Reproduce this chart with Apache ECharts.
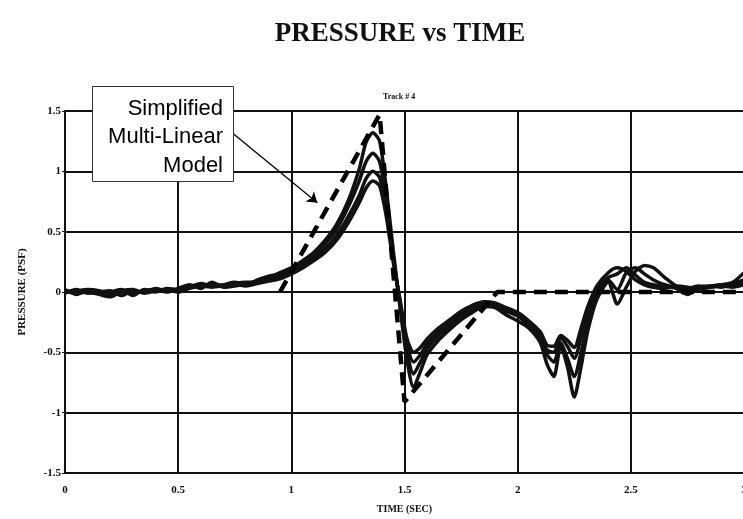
<!DOCTYPE html>
<html>
<head>
<meta charset="utf-8">
<script src="https://cdn.jsdelivr.net/npm/echarts@6/dist/echarts.min.js"></script>
<style>
  html, body { margin: 0; padding: 0; background: #fff; }
  #chart { width: 743px; height: 519px; }
</style>
</head>
<body>
<div id="chart"></div>
<script>
// Sample times (seconds) shared by the four measured pressure traces
const timeSec = [
  0, 0.05, 0.1, 0.15, 0.2, 0.25, 0.3, 0.35, 0.4, 0.45, 0.5,
  0.55, 0.6, 0.65, 0.7, 0.75, 0.8, 0.85, 0.9,
  0.95, 1.0, 1.05, 1.1, 1.15, 1.2, 1.25, 1.3,
  1.33, 1.36, 1.39, 1.42, 1.45, 1.48, 1.51, 1.54, 1.57, 1.6,
  1.65, 1.7, 1.75, 1.8, 1.85, 1.9, 1.95, 2.0, 2.05, 2.1,
  2.13, 2.16, 2.19, 2.22, 2.25, 2.28, 2.31,
  2.35, 2.4, 2.44, 2.48, 2.52, 2.56, 2.6,
  2.65, 2.7, 2.75, 2.8, 2.85, 2.9, 2.95, 3.0
];

// Measured pressure (PSF), one array per run
const run1 = [
  0.01, -0.01, 0.0, -0.02, -0.04, 0.0, -0.01, 0.01, 0.02, 0.0, 0.03,
  0.06, 0.03, 0.08, 0.04, 0.05, 0.07, 0.09, 0.12,
  0.16, 0.2, 0.26, 0.33, 0.43, 0.56, 0.75, 1.02,
  1.24, 1.32, 1.25, 0.85, 0.35, -0.12, -0.55, -0.79, -0.66, -0.52,
  -0.4, -0.31, -0.23, -0.17, -0.12, -0.13, -0.19, -0.24, -0.3, -0.42,
  -0.6, -0.7, -0.45, -0.62, -0.87, -0.62, -0.32,
  -0.06, 0.08, -0.1, 0.04, 0.17, 0.22, 0.2,
  0.12, 0.05, 0.02, 0.04, 0.05, 0.06, 0.08, 0.16
];
const run2 = [
  -0.01, 0.02, -0.01, 0.0, 0.01, -0.03, 0.01, 0.0, 0.03, 0.01, 0.01,
  0.04, 0.07, 0.05, 0.06, 0.08, 0.06, 0.1, 0.13,
  0.15, 0.19, 0.24, 0.3, 0.4, 0.52, 0.7, 0.92,
  1.08, 1.15, 1.08, 0.75, 0.3, -0.1, -0.48, -0.68, -0.58, -0.47,
  -0.36, -0.28, -0.2, -0.15, -0.1, -0.12, -0.16, -0.2, -0.28, -0.38,
  -0.52, -0.58, -0.42, -0.55, -0.7, -0.5, -0.25,
  -0.02, 0.1, 0.02, 0.16, 0.2, 0.15, 0.1,
  0.06, 0.03, -0.02, 0.03, 0.05, 0.04, 0.07, 0.1
];
const run3 = [
  0.02, -0.02, 0.01, -0.01, 0.0, 0.02, -0.03, 0.02, 0.0, 0.03, 0.02,
  0.05, 0.04, 0.07, 0.05, 0.07, 0.08, 0.08, 0.11,
  0.13, 0.17, 0.22, 0.28, 0.36, 0.47, 0.62, 0.8,
  0.94, 1.0, 0.95, 0.68, 0.28, -0.08, -0.42, -0.58, -0.52, -0.43,
  -0.33, -0.25, -0.18, -0.12, -0.09, -0.1, -0.15, -0.19, -0.26, -0.36,
  -0.48, -0.5, -0.38, -0.45, -0.55, -0.38, -0.18,
  0.02, 0.12, 0.15, 0.2, 0.14, 0.08, 0.06,
  0.05, 0.04, 0.03, 0.05, 0.04, 0.06, 0.05, 0.08
];
const run4 = [
  0.0, 0.01, 0.02, 0.01, -0.02, 0.01, 0.02, -0.01, 0.01, 0.02, 0.0,
  0.03, 0.05, 0.04, 0.05, 0.06, 0.05, 0.07, 0.09,
  0.11, 0.15, 0.2, 0.26, 0.33, 0.43, 0.57, 0.74,
  0.86, 0.92, 0.88, 0.62, 0.25, -0.06, -0.38, -0.5, -0.46, -0.39,
  -0.3, -0.23, -0.16, -0.11, -0.08, -0.09, -0.13, -0.17, -0.24, -0.33,
  -0.44, -0.45, -0.36, -0.4, -0.46, -0.3, -0.12,
  0.05, 0.16, 0.2, 0.17, 0.1, 0.06, 0.04,
  0.03, 0.05, 0.04, 0.02, 0.04, 0.05, 0.04, 0.06
];

// Simplified multi-linear model (breakpoints)
const modelTime = [0.95, 1.39, 1.5, 1.91, 3];
const modelValue = [0, 1.47, -0.91, 0, 0];

// Leader line from the note box to the model line (data coordinates)
const leaderFrom = [0.745, 1.31];
const leaderTo = [1.115, 0.74];

const xTicks = [0, 0.5, 1, 1.5, 2, 2.5, 3];
const yTicks = [-1.5, -1, -0.5, 0, 0.5, 1, 1.5];

const pair = (xs, ys) => xs.map((x, i) => [x, ys[i]]);

const serif = '"Liberation Serif", "DejaVu Serif", serif';
const sans = '"Liberation Sans", Arial, sans-serif';

const runStyle = (data) => ({
  type: 'line',
  data: pair(timeSec, data),
  symbol: 'none',
  smooth: 0.25,
  lineStyle: { color: '#111', width: 3.5 },
  silent: true,
  z: 3
});

const chart = echarts.init(document.getElementById('chart'), null, { renderer: 'canvas' });

chart.setOption({
  animation: false,
  backgroundColor: '#fff',
  title: {
    text: 'PRESSURE vs TIME',
    left: 395,
    textAlign: 'center',
    top: 16,
    textStyle: { fontFamily: serif, fontWeight: 'bold', fontSize: 27, color: '#111' }
  },
  grid: { left: 65, right: -1, top: 111, bottom: 46, outerBoundsMode: 'none', containLabel: false },
  xAxis: {
    type: 'value',
    min: xTicks[0],
    max: xTicks[xTicks.length - 1],
    interval: 0.5,
    name: 'TIME (SEC)',
    nameLocation: 'middle',
    nameGap: 31,
    nameTextStyle: { fontFamily: serif, fontWeight: 'bold', fontSize: 10, color: '#111' },
    axisLine: { show: true, lineStyle: { color: '#111', width: 2 } },
    axisTick: { show: false },
    axisLabel: {
      margin: 12, fontFamily: serif, fontWeight: 'bold', fontSize: 11, color: '#111',
      showMaxLabel: true, showMinLabel: true,
      formatter: v => String(v)
    },
    splitLine: { show: true, lineStyle: { color: '#111', width: 2 } }
  },
  yAxis: {
    type: 'value',
    min: yTicks[0],
    max: yTicks[yTicks.length - 1],
    interval: 0.5,
    name: 'PRESSURE (PSF)',
    nameLocation: 'middle',
    nameGap: 37,
    nameRotate: 90,
    nameTextStyle: { fontFamily: serif, fontWeight: 'bold', fontSize: 11, color: '#111' },
    axisLine: { show: true, lineStyle: { color: '#111', width: 2 } },
    axisTick: { show: true, length: 3, lineStyle: { color: '#111', width: 1 } },
    axisLabel: {
      margin: 4, fontFamily: serif, fontWeight: 'bold', fontSize: 11, color: '#111',
      formatter: v => String(v)
    },
    splitLine: { show: true, lineStyle: { color: '#111', width: 2 } }
  },
  series: [
    runStyle(run1),
    runStyle(run2),
    runStyle(run3),
    runStyle(run4),
    {
      type: 'line',
      name: 'Simplified Multi-Linear Model',
      data: pair(modelTime, modelValue),
      symbol: 'none',
      silent: true,
      z: 4,
      lineStyle: { color: '#000', width: 4.5, type: [13, 8] },
      markLine: {
        silent: true,
        symbol: ['none', 'arrow'],
        symbolSize: 10,
        label: { show: false },
        lineStyle: { color: '#000', width: 1.3, type: 'solid' },
        data: [[{ coord: leaderFrom }, { coord: leaderTo }]]
      }
    }
  ],
  graphic: [
    {
      type: 'text',
      left: 383,
      top: 93,
      style: { text: 'Track # 4', fontFamily: serif, fontWeight: 'bold', fontSize: 8, fill: '#111' }
    },
    {
      type: 'rect',
      z: 100,
      zlevel: 1,
      shape: { x: 92.5, y: 86.5, width: 141, height: 95 },
      style: { fill: '#fff', stroke: '#333', lineWidth: 1 }
    },
    {
      type: 'text',
      z: 101,
      zlevel: 1,
      x: 223,
      y: 137,
      style: {
        text: 'Simplified\nMulti-Linear\nModel',
        align: 'right',
        verticalAlign: 'middle',
        fontFamily: sans,
        fontSize: 22,
        lineHeight: 28.5,
        fill: '#000'
      }
    }
  ]
});
</script>
</body>
</html>
